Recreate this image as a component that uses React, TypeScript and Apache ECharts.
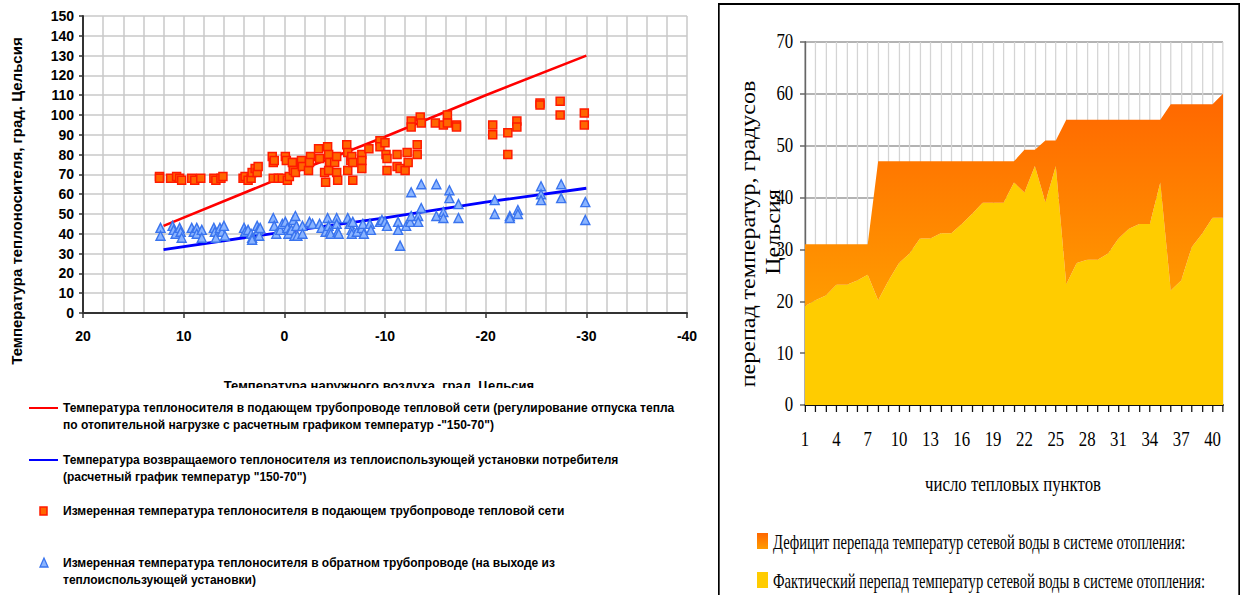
import React, { useEffect, useRef } from "react";
import * as echarts from "echarts";

// ---------- Left chart data ----------
const xTicks = [20, 10, 0, -10, -20, -30, -40];
const supplyDesign: [number, number][] = [[12, 44], [0, 69], [-10, 89], [-20, 110], [-30, 130]];
const returnDesign: [number, number][] = [[12, 32], [0, 41], [-10, 48], [-20, 56], [-30, 63]];
const supplyMeasured: [number, number][] = [
  [12.4, 69], [12.4, 68], [11.3, 68], [10.7, 69], [10.4, 68], [10.2, 67], [9.2, 68], [8.9, 67], [8.3, 68],
  [7.0, 68], [6.8, 67], [6.3, 68], [6.1, 69],
  [4.1, 68], [3.9, 69], [3.6, 67], [3.3, 68], [3.2, 71], [2.9, 73], [2.7, 71], [2.6, 74],
  [1.2, 79], [1.1, 76], [1.0, 77], [-0.1, 79], [-0.2, 77], [-0.9, 76], [-0.9, 74],
  [1.1, 68], [0.6, 68], [0.2, 68], [-0.3, 67], [-0.5, 69],
  [-0.8, 76], [-0.9, 72], [-1.1, 71], [-1.7, 77], [-1.8, 74], [-2.4, 72], [-2.6, 79], [-2.5, 76],
  [-3.4, 83], [-3.5, 78], [-4.0, 71], [-4.1, 66], [-4.3, 84], [-4.4, 80], [-4.5, 76], [-4.4, 72],
  [-5.0, 76], [-5.2, 79], [-5.2, 71], [-5.3, 67],
  [-6.2, 85], [-6.3, 81], [-6.3, 72], [-6.6, 77], [-6.7, 79], [-6.8, 67], [-6.8, 76],
  [-7.7, 80], [-7.7, 77], [-7.7, 73], [-8.4, 83],
  [-9.5, 87], [-9.5, 84], [-10.0, 86], [-10.1, 80], [-10.2, 78], [-10.2, 72], [-11.2, 80], [-11.2, 74],
  [-11.5, 73], [-12.0, 72], [-12.2, 81], [-12.3, 76], [-13.2, 85], [-13.2, 80],
  [-12.6, 97], [-12.6, 94], [-13.5, 99], [-13.6, 96],
  [-15.0, 96], [-15.8, 95], [-16.2, 100], [-16.2, 96], [-17.1, 95], [-17.1, 94],
  [-20.7, 95], [-20.7, 90], [-22.2, 91], [-22.2, 80], [-23.1, 97], [-23.1, 94],
  [-25.4, 106], [-25.4, 105], [-27.4, 107], [-27.4, 100], [-29.8, 101], [-29.8, 95],
];
const returnMeasured: [number, number][] = [
  [12.3, 43], [12.3, 39], [11.1, 44], [11.0, 42], [10.8, 40], [10.4, 43], [10.3, 41], [10.2, 38],
  [9.2, 43], [9.0, 41], [8.7, 43], [8.7, 40], [8.2, 42], [8.2, 38],
  [7.0, 43], [6.9, 41], [6.8, 38], [6.4, 43], [6.2, 41], [6.0, 44], [5.9, 39],
  [4.0, 43], [3.9, 41], [3.6, 42], [3.3, 40], [3.2, 38], [3.2, 37], [2.7, 44], [2.6, 42], [2.5, 39], [2.4, 43],
  [1.1, 48], [1.0, 44], [0.8, 40], [0.4, 42], [0.2, 45], [-0.1, 46], [-0.3, 43], [-0.4, 40], [-0.7, 42], [-0.9, 47], [-1.0, 39],
  [-1.1, 49], [-1.2, 44], [-1.3, 39], [-1.8, 44], [-1.8, 40], [-2.5, 46], [-2.8, 45], [-3.5, 45], [-3.7, 43],
  [-4.1, 41], [-4.3, 48], [-4.4, 44], [-4.5, 41], [-4.6, 40],
  [-5.2, 48], [-5.2, 45], [-5.3, 41], [-5.4, 40], [-6.3, 48], [-6.5, 45], [-6.7, 42], [-6.7, 40], [-6.8, 46],
  [-7.2, 41], [-7.7, 43], [-7.8, 45], [-7.9, 40],
  [-8.5, 45], [-8.6, 42], [-9.5, 46], [-9.7, 47], [-10.0, 46], [-10.2, 44], [-11.3, 46], [-11.3, 42], [-11.5, 34],
  [-12.1, 44], [-12.5, 46], [-12.6, 49], [-12.6, 61], [-13.3, 49], [-13.3, 46], [-13.6, 53], [-13.6, 65],
  [-15.1, 65], [-15.1, 49], [-15.8, 51], [-15.8, 48], [-16.4, 62], [-16.4, 58], [-17.3, 55], [-17.3, 48],
  [-20.9, 57], [-20.9, 50], [-22.4, 49], [-22.4, 48], [-23.2, 52], [-23.2, 50],
  [-25.5, 64], [-25.5, 60], [-25.5, 57], [-27.5, 65], [-27.5, 58], [-29.9, 56], [-29.9, 47],
];

// ---------- Right chart data ----------
const stations = [
  "1", "2", "3", "4", "5", "6", "7", "8", "9", "10", "11", "12", "13", "14", "15", "16", "17", "18", "19", "20",
  "21", "22", "23", "24", "25", "26", "27", "28", "29", "30", "31", "32", "33", "34", "35", "36", "37", "38", "39", "40", "41",
];
const requiredDrop = [
  31, 31, 31, 31, 31, 31, 31, 47, 47, 47, 47, 47, 47, 47, 47, 47, 47, 47, 47, 47,
  47, 49.2, 49.2, 51, 51, 55, 55, 55, 55, 55, 55, 55, 55, 55, 55, 58, 58, 58, 58, 58, 60,
];
const actualDrop = [
  19.1, 20.2, 21.1, 23.2, 23.2, 24.0, 25.1, 20.2, 24.0, 27.4, 29.2, 32.1, 32.1, 33.1, 33.1, 34.9, 36.9, 39.0, 39.0, 39.0,
  42.9, 41.0, 46.1, 39.1, 46.1, 23.3, 27.4, 28.0, 28.0, 29.2, 32.1, 34.0, 34.9, 34.9, 42.9, 22.1, 24.0, 30.4, 33.0, 36.1, 36.1,
];

const SX = 0.84; // horizontal squeeze of the right panel

const legendFont = "Liberation Sans";
const serif = "Liberation Serif";

function leftOption(): any {
  const gridColor = "#c8c8c8";
  const lt = (text: string, x: number, y: number) => ({
    type: "text",
    x,
    y,
    style: { text, fontSize: 12, fontWeight: "bold", fontFamily: legendFont, fill: "#000", textVerticalAlign: "middle" },
  });
  return {
    animation: false,
    backgroundColor: "#fff",
    grid: { left: 83, top: 16, width: 604, height: 297 },
    xAxis: {
      type: "value",
      min: -40,
      max: 20,
      interval: 10,
      inverse: true,
      axisLine: { show: true, onZero: false, lineStyle: { color: "#333", width: 2 } },
      axisTick: { show: true, length: 5, lineStyle: { color: "#333", width: 1.5 } },
      axisLabel: {
        fontWeight: "bold",
        fontSize: 14,
        fontFamily: legendFont,
        color: "#000",
        margin: 16,
        customValues: xTicks,
      },
      splitLine: { show: true, lineStyle: { color: gridColor, width: 1.5 } },
      minorTick: { show: false, splitNumber: 5 },
      minorSplitLine: { show: true, lineStyle: { color: gridColor, width: 1.5 } },
    },
    yAxis: {
      type: "value",
      min: 0,
      max: 150,
      interval: 10,
      axisLine: { show: true, onZero: false, lineStyle: { color: "#333", width: 2 } },
      axisTick: { show: true, length: 4, lineStyle: { color: "#333", width: 1.5 } },
      axisLabel: { fontWeight: "bold", fontSize: 14, fontFamily: legendFont, color: "#000", margin: 9 },
      splitLine: { show: true, lineStyle: { color: gridColor, width: 1.5 } },
    },
    series: [
      {
        name: "supplyDesign",
        type: "line",
        data: supplyDesign,
        symbol: "none",
        lineStyle: { color: "#ff0000", width: 2.6 },
        z: 2,
      },
      {
        name: "returnDesign",
        type: "line",
        data: returnDesign,
        symbol: "none",
        lineStyle: { color: "#0000ff", width: 2.8 },
        z: 2,
      },
      {
        name: "supplyMeasured",
        type: "scatter",
        data: supplyMeasured,
        symbol: "rect",
        symbolSize: 8,
        itemStyle: { color: "#ff6600", borderColor: "#ff1a00", borderWidth: 1.5, opacity: 1 },
        z: 3,
      },
      {
        name: "returnMeasured",
        type: "scatter",
        data: returnMeasured,
        symbol: "triangle",
        symbolSize: 9,
        itemStyle: { color: "#8ab4ff", borderColor: "#3a74ee", borderWidth: 1.4, opacity: 1 },
        z: 3,
      },
    ],
    graphic: [
      {
        type: "text",
        x: 16,
        y: 201,
        rotation: Math.PI / 2,
        style: {
          text: "Температура теплоносителя, град. Цельсия",
          fontSize: 15,
          fontWeight: "bold",
          fontFamily: legendFont,
          fill: "#000",
          textAlign: "center",
          textVerticalAlign: "middle",
        },
      },
      {
        type: "text",
        x: 379,
        y: 385,
        style: {
          text: "Температура наружного воздуха, град. Цельсия",
          fontSize: 13,
          fontWeight: "bold",
          fontFamily: legendFont,
          fill: "#000",
          textAlign: "center",
          textVerticalAlign: "middle",
        },
      },
      { type: "rect", shape: { x: 190, y: 388, width: 380, height: 10 }, style: { fill: "#fff" }, z: 10 },
      { type: "line", shape: { x1: 29, y1: 408, x2: 58, y2: 408 }, style: { stroke: "#ff0000", lineWidth: 2 } },
      lt("Температура теплоносителя в подающем трубопроводе тепловой сети (регулирование отпуска тепла", 63, 408),
      lt("по отопительной нагрузке с расчетным графиком температур -\"150-70\")", 63, 425),
      { type: "line", shape: { x1: 29, y1: 460, x2: 58, y2: 460 }, style: { stroke: "#0000ff", lineWidth: 2 } },
      lt("Температура возвращаемого теплоносителя из теплоиспользующей установки потребителя", 63, 460),
      lt("(расчетный график температур \"150-70\")", 63, 477),
      {
        type: "rect",
        shape: { x: 40, y: 507, width: 7, height: 8 },
        style: { fill: "#ff6600", stroke: "#ff1a00", lineWidth: 1.5 },
      },
      lt("Измеренная температура теплоносителя в подающем трубопроводе тепловой сети", 63, 511),
      {
        type: "polygon",
        shape: { points: [[44, 558], [40, 567], [48, 567]] },
        style: { fill: "#8ab4ff", stroke: "#3a74ee", lineWidth: 1.3 },
      },
      lt("Измеренная температура теплоносителя в обратном трубопроводе (на выходе из", 63, 563),
      lt("теплоиспользующей установки)", 63, 580),
    ],
  };
}

function rightOption(): any {
  const deficit = requiredDrop.map((t, i) => Math.round((t - actualDrop[i]) * 10) / 10);
  const gridLeft = (805 - 718) / SX;
  const gridWidth = (1223 - 805) / SX;
  const legendText = (text: string, y: number) => ({
    type: "text",
    x: (773 - 718) / SX,
    y,
    scaleX: 0.87,
    style: { text, fontSize: 20, fontFamily: serif, fill: "#000", textVerticalAlign: "middle" },
  });
  return {
    animation: false,
    backgroundColor: "#fff",
    grid: { left: gridLeft, top: 42, width: gridWidth, height: 363 },
    xAxis: {
      type: "category",
      data: stations,
      boundaryGap: false,
      axisLine: { show: true, lineStyle: { color: "#111", width: 2 } },
      axisTick: { show: true, interval: 0, length: 7, lineStyle: { color: "#111", width: 1.5 } },
      axisLabel: { interval: 2, fontSize: 20, fontFamily: serif, color: "#000", margin: 24 },
      splitLine: { show: true, interval: 0, lineStyle: { color: "#d4d4d4", width: 1.5 } },
    },
    yAxis: {
      type: "value",
      min: 0,
      max: 70,
      interval: 10,
      axisLine: { show: true, lineStyle: { color: "#666", width: 2 } },
      axisTick: { show: true, length: 6, lineStyle: { color: "#666", width: 1.5 } },
      axisLabel: { fontSize: 20, fontFamily: serif, color: "#000", margin: 14 },
      splitLine: { show: true, lineStyle: { color: "#9a9a9a", width: 1.5 } },
    },
    series: [
      {
        name: "Фактический перепад температур сетевой воды в системе отопления:",
        type: "line",
        stack: "drop",
        data: actualDrop,
        symbol: "none",
        lineStyle: { width: 0 },
        areaStyle: { color: "#ffcc00", opacity: 1 },
      },
      {
        name: "Дефицит перепада температур сетевой воды в системе отопления:",
        type: "line",
        stack: "drop",
        data: deficit,
        symbol: "none",
        lineStyle: { width: 0 },
        areaStyle: {
          opacity: 1,
          color: new echarts.graphic.LinearGradient(0, 0, 0, 1, [
            { offset: 0, color: "#ff6600" },
            { offset: 1, color: "#ff9c00" },
          ]),
        },
      },
    ],
    graphic: [
      {
        type: "rect",
        shape: { x: 1, y: 4, width: (1240 - 718) / SX - 2, height: 700 },
        style: { fill: "none", stroke: "#000", lineWidth: 2 },
        z: 100,
      },
      {
        type: "text",
        x: (748 - 718) / SX,
        y: 234,
        rotation: Math.PI / 2,
        style: {
          text: "перепад температур, градусов",
          fontSize: 24,
          fontFamily: serif,
          fill: "#000",
          textAlign: "center",
          textVerticalAlign: "middle",
        },
      },
      {
        type: "text",
        x: (773 - 718) / SX,
        y: 232,
        rotation: Math.PI / 2,
        style: {
          text: "Цельсия",
          fontSize: 24,
          fontFamily: serif,
          fill: "#000",
          textAlign: "center",
          textVerticalAlign: "middle",
        },
      },
      {
        type: "text",
        x: (1013 - 718) / SX,
        y: 485,
        style: {
          text: "число тепловых пунктов",
          fontSize: 20,
          fontFamily: serif,
          fill: "#000",
          textAlign: "center",
          textVerticalAlign: "middle",
        },
      },
      {
        type: "rect",
        shape: { x: (757 - 718) / SX, y: 533, width: 11 / SX, height: 16 },
        style: {
          fill: new echarts.graphic.LinearGradient(0, 0, 0, 1, [
            { offset: 0, color: "#ff6600" },
            { offset: 1, color: "#ff9c00" },
          ]),
        },
      },
      legendText("Дефицит перепада температур сетевой воды в системе отопления:", 542),
      {
        type: "rect",
        shape: { x: (757 - 718) / SX, y: 572, width: 11 / SX, height: 16 },
        style: { fill: "#ffcc00" },
      },
      legendText("Фактический перепад температур сетевой воды в системе отопления:", 581),
    ],
  };
}

export default function App() {
  const leftRef = useRef<HTMLDivElement>(null);
  const rightRef = useRef<HTMLDivElement>(null);
  useEffect(() => {
    const c1 = echarts.init(leftRef.current!, undefined, { renderer: "svg" });
    c1.setOption(leftOption());
    const c2 = echarts.init(rightRef.current!, undefined, { renderer: "svg" });
    c2.setOption(rightOption());
    return () => {
      c1.dispose();
      c2.dispose();
    };
  }, []);
  return (
    <div style={{ position: "fixed", left: 0, top: 0, width: 1246, height: 595, background: "#fff", overflow: "hidden" }}>
      <div ref={leftRef} style={{ position: "absolute", left: 0, top: 0, width: 712, height: 595 }} />
      <div
        ref={rightRef}
        style={{
          position: "absolute",
          left: 718,
          top: 0,
          width: Math.round((1246 - 718) / SX),
          height: 595,
          transform: `scaleX(${SX})`,
          transformOrigin: "0 0",
        }}
      />
    </div>
  );
}
